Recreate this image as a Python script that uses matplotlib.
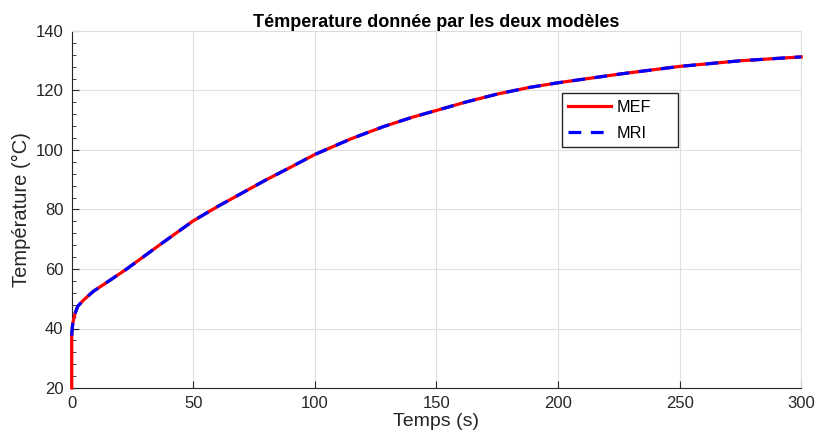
import numpy as np
import matplotlib.pyplot as plt
from matplotlib.ticker import MultipleLocator

plt.rcParams['font.family'] = ['Liberation Sans', 'DejaVu Sans']

# values
t_mef = [0, 0, 0.2, 0.5, 1.35, 2.5, 4.8, 8.9, 15, 22.6, 36, 50, 60, 70, 80, 90, 100,
         115, 128, 140, 150, 162, 175, 188, 200, 226, 250, 275, 300]
T_mef = [20, 37.6, 40, 42, 45, 47.5, 49.5, 52.5, 55.8, 60, 68, 76.2, 81, 85.5, 90, 94.2, 98.5,
         103.8, 107.8, 111, 113.3, 116.1, 118.8, 121, 122.6, 125.6, 128.1, 130, 131.3]
t_mri = [0, 0.2, 0.5, 1.35, 2.5, 4.8, 8.9, 15, 22.6, 36, 50, 60, 70, 80, 90, 100,
         115, 128, 140, 150, 162, 175, 188, 200, 226, 250, 275, 300]
T_mri = [37.6, 40, 42, 45, 47.5, 49.5, 52.5, 55.8, 60, 68, 76.2, 81, 85.5, 90, 94.2, 98.5,
         103.8, 107.8, 111, 113.3, 116.1, 118.8, 121, 122.6, 125.6, 128.1, 130, 131.3]

fig = plt.figure(figsize=(8.16, 4.38), dpi=100)
ax = fig.add_axes([71.7/816, 50/438, 729.5/816, 357/438])

ax.plot(t_mef, T_mef, color='#ff0000', lw=2.3, label='MEF', zorder=3, clip_on=False)
ax.plot(t_mri, T_mri, color='#0000ff', lw=2.3, dashes=(4, 3), label='MRI', zorder=4, clip_on=False)

ax.set_xlim(0, 300)
ax.set_ylim(20, 140)
ax.set_xticks(np.arange(0, 301, 50))
ax.set_yticks(np.arange(20, 141, 20))
ax.yaxis.set_minor_locator(MultipleLocator(4))
ax.tick_params(direction='in', labelsize=12, colors='#262626', length=5)
ax.tick_params(axis='x', pad=6)
ax.tick_params(axis='y', pad=6)
ax.tick_params(which='minor', direction='in', length=3, colors='#262626')
ax.tick_params(axis='y', which='both', right=False)
ax.grid(True, color='#e0e0e0', lw=0.8)
ax.set_axisbelow(True)
for s in ['top', 'right']:
    ax.spines[s].set_color('#dcdcdc')
for s in ['left', 'bottom']:
    ax.spines[s].set_color('#262626')

ax.set_title('Témperature donnée par les deux modèles', fontsize=13, fontweight='bold', pad=3)
ax.set_xlabel('Temps (s)', fontsize=14, color='#262626', labelpad=1)
ax.set_ylabel('Température (°C)', fontsize=14.5, color='#262626', labelpad=3)

leg = ax.legend(loc='lower left', bbox_to_anchor=(0.672, 0.675, 0.159, 0.157), mode='expand',
                borderaxespad=0, fontsize=11.7, fancybox=False, framealpha=1,
                edgecolor='#262626', handlelength=2.65, handletextpad=0.3,
                borderpad=0.4, labelspacing=0.65)
leg.get_frame().set_linewidth(1)

fig.savefig('out.png', dpi=100)
